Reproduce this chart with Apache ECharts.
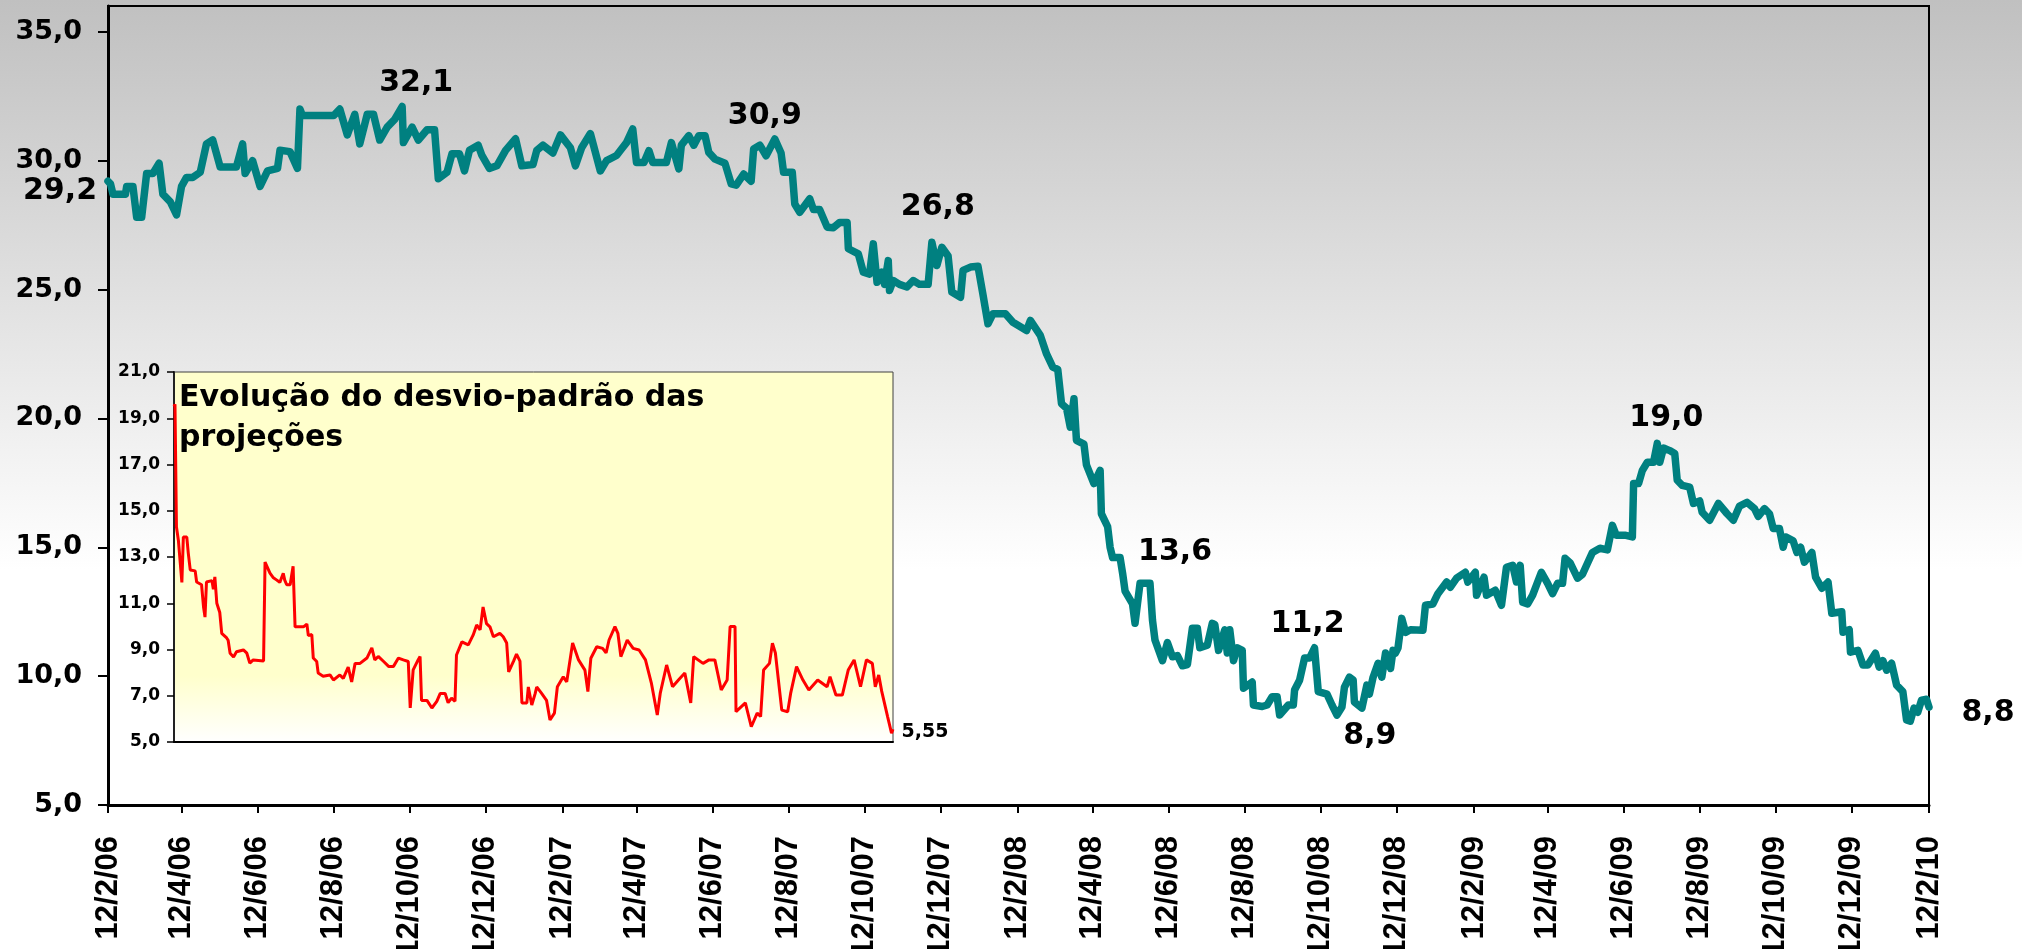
<!DOCTYPE html>
<html>
<head>
<meta charset="utf-8">
<script src="https://cdn.jsdelivr.net/npm/echarts@6/dist/echarts.min.js"></script>
<style>
  html, body { margin: 0; padding: 0; }
  #c { width: 2022px; height: 949px; background: linear-gradient(to bottom, #c0c0c0 0px, #ffffff 570px, #ffffff 949px); }
</style>
</head>
<body>
<div id="c"></div>
<script>
// ---------- DATA ----------
const startDate = '12/2/06';
const tickLabels = ['12/2/06','12/4/06','12/6/06','12/8/06','12/10/06','12/12/06',
  '12/2/07','12/4/07','12/6/07','12/8/07','12/10/07','12/12/07',
  '12/2/08','12/4/08','12/6/08','12/8/08','12/10/08','12/12/08',
  '12/2/09','12/4/09','12/6/09','12/8/09','12/10/09','12/12/09','12/2/10'];
const yTickValues = [5, 10, 15, 20, 25, 30, 35];

// main series: days since 12/2/06 and values
const mainDays = [0,2,4,14,15,20,23,27,31,36,41,44,50,55,59,63,68,74,79,84,90,103,108,110,116,122,128,136,138,146,152,154,156,181,186,192,198,202,208,213,218,224,230,236,237,244,249,256,262,265,272,276,282,286,290,297,300,306,312,319,327,332,341,344,349,357,363,371,375,380,387,395,400,
408,412,416,421,424,430,434,437,448,452,458,460,466,470,474,479,482,487,495,500,504,510,516,518,523,528,535,540,542,549,551,555,563,566,571,577,582,587,593,594,602,606,611,614,617,621,623,626,627,630,635,641,646,651,658,661,665,669,674,677,684,686,692,698,702,706,710,720,726,737,740,748,753,758,762,765,769,772,775,777,783,785,791,796,
797,802,804,806,812,814,816,822,824,828,836,838,840,846,850,854,858,862,866,870,874,876,882,886,888,891,896,898,900,903,906,910,911,918,919,926,930,934,938,940,947,951,952,956,960,964,968,971,978,982,986,990,992,996,999,1000,1006,1010,1012,1015,1019,1022,1025,1029,1031,1033,1035,1038,1041,1045,1055,1057,1063,1067,1074,1077,1082,1089,1091,1097,1098,1104,1106,1113,1118,1122,1127,1130,1133,1135,1139,1143,1150,1155,1159,1163,1167,1169,1173,1179,1183,1187,1191,1197,
1203,1207,1210,1217,1223,1224,1228,1231,1235,1240,1243,1245,1248,1253,1257,1259,1263,1269,1272,1277,1279,1285,1292,1299,1304,1309,1315,1321,1324,1329,1333,1336,1341,1344,1346,1352,1355,1358,1361,1367,1370,1375,1380,1383,1391,1392,1397,1398,1404,1408,1412,1418,1421,1424,1427,1431,1435,1440,1443,1446,1449,1452,1455,1459,1461];
const mainValues = [29.2,29.1,28.7,28.7,29.0,29.0,27.8,27.8,29.5,29.5,29.9,28.7,28.4,27.9,29.0,29.35,29.35,29.55,30.65,30.8,29.75,29.75,30.65,29.5,30.0,29.0,29.6,29.7,30.4,30.35,29.7,32.0,31.75,31.75,32.0,31.0,31.8,30.65,31.8,31.8,30.8,31.3,31.6,32.1,30.7,31.3,30.8,31.2,31.2,29.3,29.55,30.27,30.27,29.6,30.4,30.6,30.2,29.7,29.8,30.4,30.85,29.8,29.85,30.4,30.6,30.3,31.0,30.5,29.8,30.5,31.05,29.6,30.0,
30.2,30.45,30.7,31.23,29.93,29.93,30.39,29.93,29.93,30.7,29.68,30.6,30.97,30.6,30.97,30.97,30.32,30.06,29.9,29.1,29.05,29.48,29.2,30.45,30.6,30.19,30.84,30.3,29.55,29.55,28.32,28.0,28.52,28.1,28.1,27.42,27.4,27.6,27.6,26.58,26.38,25.67,25.6,26.77,25.28,25.67,25.2,26.12,24.96,25.35,25.2,25.1,25.35,25.2,25.2,26.83,25.93,26.64,26.3,24.9,24.7,25.74,25.87,25.9,24.8,23.67,24.06,24.06,23.73,23.41,23.8,23.22,22.5,21.99,21.9,20.57,20.4,19.66,20.76,19.15,19.0,18.2,17.47,17.98,
16.3,15.8,15.0,14.6,14.6,14.0,13.3,12.8,12.05,13.6,13.6,12.17,11.4,10.6,11.3,10.75,10.8,10.4,10.45,11.86,11.86,11.1,11.2,12.05,12.0,11.0,11.8,10.9,11.8,10.6,11.1,11.0,9.53,9.77,8.88,8.82,8.88,9.2,9.2,8.49,8.88,8.88,9.46,9.84,10.7,10.7,11.1,9.4,9.3,8.88,8.49,8.8,9.57,9.96,9.85,8.99,8.76,9.65,9.3,9.96,10.5,9.96,10.9,10.3,11.0,10.9,11.1,12.24,11.7,11.8,11.78,12.75,12.8,13.2,13.65,13.45,13.8,14.03,13.65,14.03,13.14,13.84,13.14,13.33,12.75,14.22,14.3,13.65,14.3,12.87,12.8,13.14,14.03,13.6,13.2,13.6,13.6,14.57,14.4,13.8,13.95,14.38,14.8,14.96,
14.9,15.85,15.47,15.47,15.4,17.47,17.47,17.98,18.3,18.3,19.03,18.3,18.85,18.75,18.64,17.6,17.4,17.33,16.7,16.8,16.36,16.05,16.7,16.3,16.05,16.6,16.74,16.5,16.2,16.5,16.3,15.73,15.73,15.0,15.4,15.25,14.8,15.0,14.42,14.8,13.84,13.41,13.65,12.44,12.5,11.7,11.8,10.93,11.0,10.43,10.43,10.89,10.35,10.6,10.23,10.5,9.65,9.4,8.3,8.25,8.76,8.6,9.07,9.1,8.8];

// inset series (standard deviation of projections)
const insetDays = [0,2,5,9,16,19,26,29,33,43,46,56,60,63,66,77,80,83,87,93,97,107,110,114,121,127,141,148,154,161,182,185,195,202,209,215,222,225,229,236,239,242,246,263,270,273,280,283,290,293,303,317,324,337,344,354,361,368,378,392,402,408,415,426,436,446,456,466,476,480,486,496,500,503,514,524,534,541,551,557,564,571,574,585,598,608,615,622,628,635,642,649,662,669,676,680,690,696,703,707,717,720,727,734,737,747,757,764,773,779,791,798,810,822,835,841,847,859,871,878,884,896,902,908,921,933,945,958,970,982,988,1001,1013,1025,1038,1050,1056,1075,1087,1099,1112,1124,1130,1140,1142,1161,1173,1185,1192,1198,1210,1216,1222,1235,1247,1253,1265,1278,1290,1308,1327,1333,1345,1358,1370,1382,1395,1407,1419,1425,1432,1438,1450,1458,1461];
const insetValues = [19.5,19.6,14.3,13.7,11.9,13.86,13.86,13.17,12.44,12.4,11.92,11.8,10.84,10.4,11.92,11.98,11.6,12.14,11.0,10.6,9.7,9.5,9.4,8.84,8.68,8.9,8.98,8.84,8.41,8.55,8.5,12.78,12.3,12.1,12.0,11.9,12.3,12.0,11.8,11.8,12.2,12.6,9.98,9.98,10.1,9.6,9.65,8.63,8.48,7.98,7.84,7.9,7.68,7.9,7.75,8.24,7.6,8.4,8.4,8.63,9.07,8.55,8.7,8.48,8.27,8.27,8.63,8.55,8.48,6.47,8.12,8.55,8.7,6.8,6.8,6.47,6.76,7.1,7.1,6.7,6.9,6.76,8.76,9.33,9.2,9.63,10.06,9.85,10.84,10.12,9.98,9.55,9.7,9.55,9.28,8.03,8.5,8.8,8.5,6.69,6.69,7.38,6.6,7.1,7.38,7.1,6.8,5.95,6.25,7.39,7.82,7.6,9.28,8.55,8.11,7.18,8.62,9.12,9.05,8.85,9.41,9.99,9.7,8.69,9.41,9.05,8.98,8.55,7.55,6.17,7.1,8.33,7.39,7.68,7.98,6.69,8.69,8.4,8.55,8.55,7.25,7.68,9.99,9.99,6.31,6.69,5.66,6.25,6.1,8.11,8.4,9.27,8.85,6.38,6.31,7.1,8.26,7.68,7.25,7.68,7.39,7.82,7.03,7.03,8.11,8.55,7.39,8.55,8.4,7.39,7.9,7.2,6.1,5.38,5.55];

// annotated values on the main line
const annotDays = [0, 236, 535, 661, 832, 968, 1006, 1243, 1461];
const annotValues = [29.2, 32.1, 30.9, 26.8, 13.6, 11.2, 8.9, 19.0, 8.8];
// annotation on the inset line
const insetAnnotDays = [1461];
const insetAnnotValues = [5.55];

const insetTitle = 'Evolução do desvio-padrão das\nprojeções';

// ---------- STYLE (label offsets in px) ----------
const annotOffsets = [[-48,10],[14,-23],[-10,-21],[6,-36],[30,-31],[-7,-21],[8,32],[9,-26],[59,6]];
const insetAnnotOffsets = [[32,3]];

// ---------- BUILD ----------
function parseDMY(s) {
  const p = s.split('/').map(Number);
  return Date.UTC(2000 + p[2], p[1] - 1, p[0]);
}
const t0 = parseDMY(startDate);
const tickDays = tickLabels.map(s => Math.round((parseDMY(s) - t0) / 86400000));
const tickMap = {};
tickDays.forEach((d, i) => { tickMap[d] = tickLabels[i]; });
const comma = (v, n) => v.toFixed(n).replace('.', ',');

const mainData = mainDays.map((d, i) => [d, mainValues[i]]);
const insetData = insetDays.map((d, i) => [d, insetValues[i]]);
const maxDay = tickDays[tickDays.length - 1];

const BOLD = { fontFamily: 'DejaVu Sans', fontWeight: 'bold', color: '#000' };
const NOBORDER = { textBorderWidth: 0, textBorderColor: 'transparent', textShadowBlur: 0, opacity: 1 };

const chart = echarts.init(document.getElementById('c'), null, { renderer: 'canvas', width: 2022, height: 949 });
chart.setOption({
  animation: false,
  backgroundColor: 'transparent',
  title: {
    text: insetTitle, left: 179, top: 378, padding: 0,
    textStyle: Object.assign({ fontSize: 30, lineHeight: 40 }, BOLD)
  },
  grid: [
    { left: 108, top: 6, width: 1821, height: 799, outerBoundsMode: 'none', containLabel: false,
      show: true, borderColor: '#000', borderWidth: 2, backgroundColor: 'transparent' },
    { left: 174, top: 372, width: 719, height: 370, outerBoundsMode: 'none', containLabel: false,
      show: true, borderColor: '#404040', borderWidth: 1,
      backgroundColor: new echarts.graphic.LinearGradient(0, 0, 0, 1, [
        { offset: 0, color: '#ffffcc' }, { offset: 0.82, color: '#ffffcc' }, { offset: 1, color: '#ffffff' }]) }
  ],
  xAxis: [
    { gridIndex: 0, type: 'value', min: 0, max: maxDay,
      axisLine: { show: true, lineStyle: { color: '#000', width: 3 } },
      axisTick: { show: true, customValues: tickDays, length: 8, lineStyle: { color: '#000', width: 2 } },
      axisLabel: { customValues: tickDays, rotate: 90, margin: 31, formatter: v => tickMap[v] || '',
        fontFamily: 'Liberation Sans', fontWeight: 'bold', fontSize: 31, color: '#000' },
      splitLine: { show: false } },
    { gridIndex: 1, type: 'value', min: 0, max: maxDay,
      axisLine: { show: true, lineStyle: { color: '#000', width: 2 } },
      axisTick: { show: false }, axisLabel: { show: false }, splitLine: { show: false } }
  ],
  yAxis: [
    { gridIndex: 0, type: 'value', min: 5, max: 36,
      axisLine: { show: true, lineStyle: { color: '#000', width: 3 } },
      axisTick: { show: true, customValues: yTickValues, length: 10, lineStyle: { color: '#000', width: 2 } },
      axisLabel: Object.assign({ customValues: yTickValues, margin: 26, fontSize: 27, formatter: v => comma(v, 1) }, BOLD),
      splitLine: { show: false } },
    { gridIndex: 1, type: 'value', min: 5, max: 21, interval: 2,
      axisLine: { show: true, lineStyle: { color: '#222', width: 2 } },
      axisTick: { show: true, length: 7, lineStyle: { color: '#000', width: 1.5 } },
      axisLabel: Object.assign({ margin: 14, fontSize: 17, formatter: v => comma(v, 1) }, BOLD),
      splitLine: { show: false } }
  ],
  series: [
    { type: 'line', xAxisIndex: 0, yAxisIndex: 0, data: mainData, symbol: 'none', smooth: false,
      lineStyle: { color: '#008080', width: 7.5, join: 'round', cap: 'round' }, z: 3, silent: true },
    { type: 'line', xAxisIndex: 1, yAxisIndex: 1, data: insetData, symbol: 'none', smooth: false,
      lineStyle: { color: '#ff0000', width: 3 }, z: 4, silent: true },
    { type: 'scatter', xAxisIndex: 0, yAxisIndex: 0, symbolSize: 1, itemStyle: { color: 'rgba(0,0,0,0)' }, silent: true, z: 6,
      data: annotDays.map((d, i) => ({ value: [d, annotValues[i]], label: { offset: annotOffsets[i] } })),
      label: Object.assign({ show: true, position: 'inside', fontSize: 30, formatter: p => comma(p.value[1], 1) }, BOLD, NOBORDER) },
    { type: 'scatter', xAxisIndex: 1, yAxisIndex: 1, symbolSize: 1, itemStyle: { color: 'rgba(0,0,0,0)' }, silent: true, z: 6,
      data: insetAnnotDays.map((d, i) => ({ value: [d, insetAnnotValues[i]], label: { offset: insetAnnotOffsets[i] } })),
      label: Object.assign({ show: true, position: 'inside', fontSize: 19, formatter: p => comma(p.value[1], 2) }, BOLD, NOBORDER) }
  ]
});
</script>
</body>
</html>
